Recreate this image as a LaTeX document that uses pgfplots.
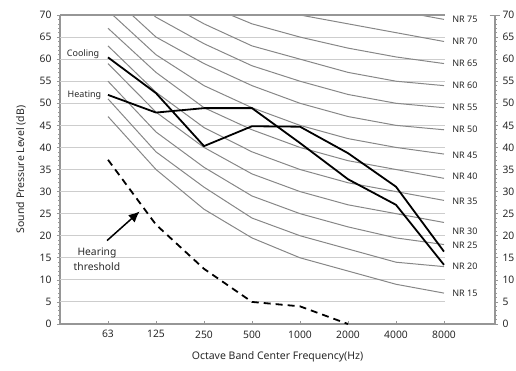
\documentclass[border=0pt]{standalone}
\usepackage{pgfplots}
\pgfplotsset{compat=1.18}
\usepackage{fontspec}
\setmainfont{Noto Sans}
\usetikzlibrary{arrows.meta}
\definecolor{nrc}{RGB}{135,135,135}
\definecolor{gridc}{RGB}{205,205,205}
\definecolor{axc}{RGB}{150,150,150}
\definecolor{txt}{RGB}{40,40,40}
\begin{document}
\begin{tikzpicture}
\path[use as bounding box] (-60pt,-46pt) rectangle (456pt,324pt);
\begin{axis}[
  at={(0pt,0pt)}, anchor=south west,
  scale only axis, width=435pt, height=309pt,
  xmin=-1, xmax=8.0625, ymin=0, ymax=70,
  axis x line*=bottom, axis y line*=left,
  axis line style={draw=axc, line width=1.8pt, -},
  xtick={0,...,7}, xticklabels={63,125,250,500,1000,2000,4000,8000},
  ytick={0,5,...,70}, minor y tick num=4,
  tick align=outside,
  major tick length=3pt, minor tick length=1.5pt,
  xtick style={draw=axc, line width=0.8pt, yshift=3pt},
  ytick style={draw=axc, line width=0.6pt},
  /pgf/number format/assume math mode=true,
  ticklabel style={font=\fontsize{10.3}{12}\selectfont, text=txt},
  yticklabel style={xshift=-2pt},
  xlabel={Octave Band Center Frequency(Hz)},
  ylabel={Sound Pressure Level (dB)},
  label style={font=\fontsize{10.5}{12}\selectfont, text=txt},
  xlabel style={at={(axis description cs:0.5,-0.1068)}, anchor=center},
  ylabel style={at={(axis description cs:-0.0897,0.5)}, anchor=center},
  clip=true,
]
\pgfplotsinvokeforeach{5,10,...,65}{\draw[gridc, line width=0.9pt] (axis cs:-1,#1) -- (axis cs:7.03,#1);}
% NR curves
\addplot[nrc, line width=1pt] coordinates {(0,47) (1,35) (2,26) (3,19.5) (4,15) (5,12) (6,9) (7,7)};
\addplot[nrc, line width=1pt] coordinates {(0,51) (1,39) (2,31) (3,24) (4,20) (5,17) (6,14) (7,13)};
\addplot[nrc, line width=1pt] coordinates {(0,55) (1,43.5) (2,35.5) (3,29) (4,25) (5,22) (6,19.5) (7,18)};
\addplot[nrc, line width=1pt] coordinates {(0,59) (1,48) (2,40) (3,34) (4,30) (5,27) (6,25) (7,23)};
\addplot[nrc, line width=1pt] coordinates {(0,63) (1,52.5) (2,44.5) (3,39) (4,35) (5,32) (6,30) (7,28)};
\addplot[nrc, line width=1pt] coordinates {(0,67) (1,57) (2,49) (3,44) (4,40) (5,37) (6,35) (7,33)};
\addplot[nrc, line width=1pt] coordinates {(0,71) (1,61) (2,54) (3,49) (4,45) (5,42) (6,40) (7,38.5)};
\addplot[nrc, line width=1pt] coordinates {(0,75) (1,65) (2,59) (3,54) (4,50) (5,47) (6,45) (7,44)};
\addplot[nrc, line width=1pt] coordinates {(0,79) (1,69.5) (2,63.5) (3,58.5) (4,55) (5,52) (6,50) (7,49)};
\addplot[nrc, line width=1pt] coordinates {(0,83) (1,74) (2,68) (3,63) (4,60) (5,57) (6,55) (7,54)};
\addplot[nrc, line width=1pt] coordinates {(0,87) (1,78.5) (2,72.5) (3,68) (4,65) (5,62.5) (6,60.5) (7,59)};
\addplot[nrc, line width=1pt] coordinates {(0,91) (1,83) (2,77) (3,73) (4,70) (5,68) (6,66) (7,64)};
\addplot[nrc, line width=1pt] coordinates {(0,95) (1,87.5) (2,81.5) (3,78) (4,75) (5,73) (6,71) (7,69)};
% Hearing threshold
\addplot[black, line width=1.8pt, dash pattern=on 7pt off 5pt] coordinates {(0,37.2) (1,22.5) (2,12.5) (3,5) (4,4) (5,0)};
% Cooling
\addplot[black, line width=1.8pt] coordinates {(0,60.4) (1,52.3) (2,40.3) (3,44.8) (4,44.7) (5,38.7) (6,31.1) (7,16.4)};
% Heating
\addplot[black, line width=1.8pt] coordinates {(0,51.9) (1,47.9) (2,48.9) (3,48.9) (4,41) (5,32.8) (6,27) (7,13.4)};
% annotations
\node[font=\fontsize{9}{10}\selectfont, text=txt] at (axis cs:-0.52,61.2) {Cooling};
\node[font=\fontsize{9}{10}\selectfont, text=txt] at (axis cs:-0.49,51.9) {Heating};
\node[font=\fontsize{10.3}{15}\selectfont, text=txt, align=center] at (axis cs:-0.23,14.7) {Hearing\\threshold};
\draw[black, line width=1.5pt, -{Latex[length=11pt, width=10pt]}] (axis cs:-0.02,18.9) -- (axis cs:0.66,25.5);
\end{axis}
\begin{axis}[
  at={(0pt,0pt)}, anchor=south west,
  scale only axis, width=435pt, height=309pt,
  xmin=-1, xmax=8.0625, ymin=0, ymax=70,
  axis x line=none, axis y line*=right,
  axis line style={draw=axc, line width=1.8pt, -},
  ytick={0,5,...,70}, minor y tick num=4,
  tick align=outside,
  major tick length=3pt, minor tick length=1.5pt,
  ytick style={draw=axc, line width=0.6pt},
  /pgf/number format/assume math mode=true,
  ticklabel style={font=\fontsize{10.3}{12}\selectfont, text=txt},
  yticklabel style={xshift=1pt},
  clip=false,
]
\draw[axc, line width=2pt] (axis cs:-1,70) -- (axis cs:7.03,70);
\draw[axc, line width=0.8pt] (axis cs:7.95,70) -- (axis cs:8.17,70);
\foreach \n/\v in {75/69,70/64,65/59,60/54,55/49,50/44.2,45/38.3,40/33.4,35/27.7,30/21,25/17.9,20/13,15/7}{
  \edef\temp{\noexpand\node[anchor=west, font=\noexpand\fontsize{9}{10}\noexpand\selectfont, text=txt, inner sep=0pt] at (axis cs:7.17,\v) {NR \n};}
  \temp
}
\end{axis}
\end{tikzpicture}
\end{document}
